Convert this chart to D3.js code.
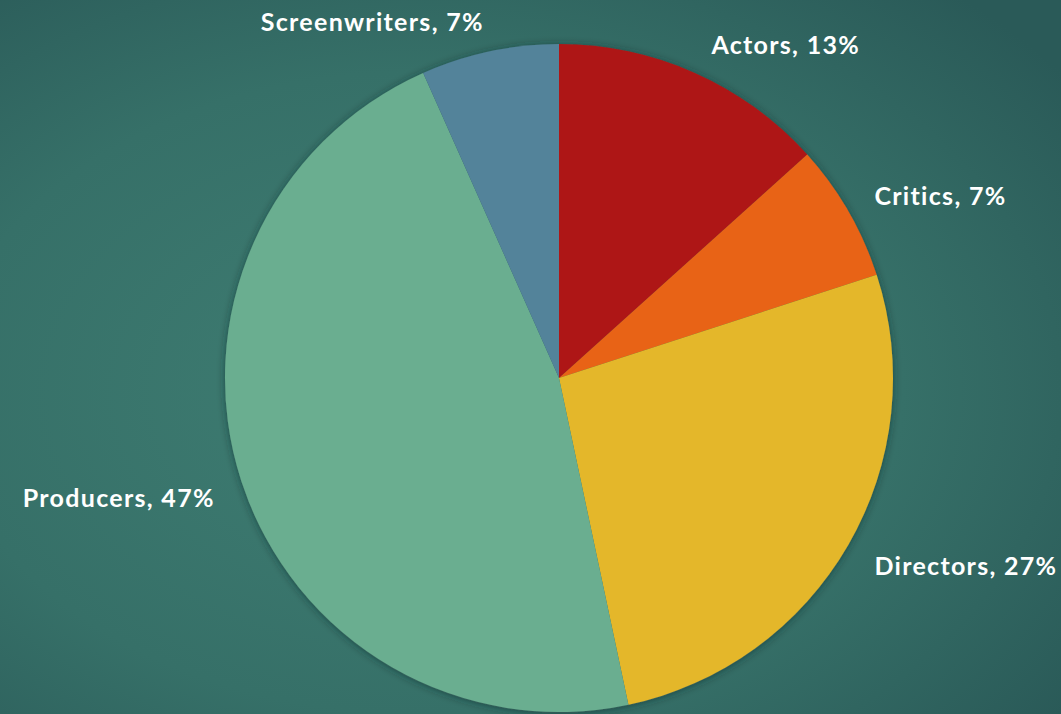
<!DOCTYPE html>
<meta charset="utf-8">
<style>
body {
  margin: 0;
  overflow: hidden;
}
.label {
  font: bold 25px Lato, "Open Sans", sans-serif;
  letter-spacing: 1.3px;
  fill: #fff;
}
</style>
<body></body>
<script src="https://cdnjs.cloudflare.com/ajax/libs/d3/7.8.5/d3.min.js"></script>
<script>
var width = 1061,
    height = 714;

// data
var categories = ["Actors", "Critics", "Directors", "Producers", "Screenwriters"];
var values = [2, 1, 4, 7, 1];
var percents = ["13%", "7%", "27%", "47%", "7%"];
var colors = ["#ae1515", "#e86313", "#e4b72a", "#6aae90", "#52839a"];

var data = categories.map(function(c, i) {
  return {name: c, value: values[i], pct: percents[i], color: colors[i]};
});

var cx = 559, cy = 378, radius = 334;

var svg = d3.select("body").append("svg")
    .attr("width", width)
    .attr("height", height);

var defs = svg.append("defs");

var bg = defs.append("radialGradient")
    .attr("id", "bg")
    .attr("cx", "40%").attr("cy", "55%").attr("r", "75%");
bg.append("stop").attr("offset", "0%").attr("stop-color", "#3f7e73");
bg.append("stop").attr("offset", "60%").attr("stop-color", "#367068");
bg.append("stop").attr("offset", "100%").attr("stop-color", "#2a5a58");

var shadow = defs.append("filter")
    .attr("id", "shadow")
    .attr("x", "-10%").attr("y", "-10%").attr("width", "120%").attr("height", "120%");
shadow.append("feDropShadow")
    .attr("dx", 0).attr("dy", 1)
    .attr("stdDeviation", 4)
    .attr("flood-color", "#0c2a28")
    .attr("flood-opacity", 0.55);

svg.append("rect")
    .attr("width", width)
    .attr("height", height)
    .attr("fill", "url(#bg)");

var pie = d3.pie()
    .value(function(d) { return d.value; })
    .sort(null);

var arc = d3.arc()
    .innerRadius(0)
    .outerRadius(radius);

var g = svg.append("g")
    .attr("transform", "translate(" + cx + "," + cy + ")");

g.append("g")
    .attr("filter", "url(#shadow)")
  .selectAll("path")
    .data(pie(data))
    .enter().append("path")
    .attr("d", arc)
    .attr("fill", function(d) { return d.data.color; });

// labels outside end
var labelR = radius + 21;
function mid(d) { return (d.startAngle + d.endAngle) / 2; }

g.selectAll(".label")
    .data(pie(data))
    .enter().append("text")
    .attr("class", "label")
    .attr("x", function(d) {
      var s = Math.sin(mid(d));
      return labelR * s + (s >= 0 ? 8 : 7 * s);
    })
    .attr("y", function(d) {
      return -labelR * Math.cos(mid(d));
    })
    .attr("dy", function(d) {
      var c = Math.cos(mid(d));
      return c < 0 ? "0.78em" : (0.32 * (1 - c)) + "em";
    })
    .style("text-anchor", function(d) {
      return Math.sin(mid(d)) >= 0 ? "start" : "end";
    })
    .text(function(d) { return d.data.name + ", " + d.data.pct; });
</script>
